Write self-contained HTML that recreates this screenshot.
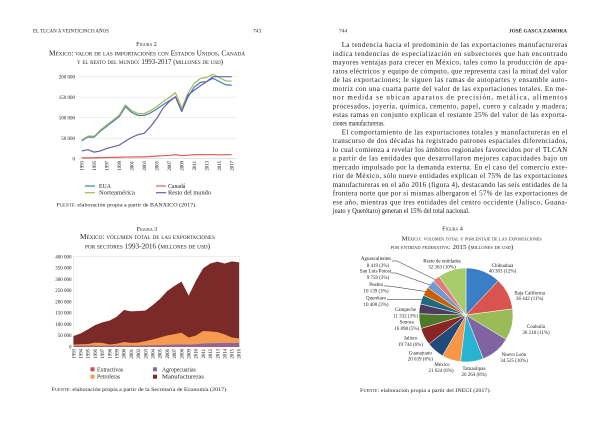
<!DOCTYPE html>
<html><head><meta charset="utf-8"><style>
html,body{margin:0;padding:0;background:#fff;}
svg{display:block;font-family:"Liberation Serif",serif;}
.sc{font-variant:small-caps;}
</style></head><body>
<svg width="600" height="431" viewBox="0 0 600 431" xmlns="http://www.w3.org/2000/svg">
<rect width="600" height="431" fill="#fff"/>
<g fill="#1e1e1e">
<!-- Headers -->
<text x="33" y="32.5" font-size="5">EL TLCAN A VEINTICINCO AÑOS</text>
<text x="253" y="32.5" font-size="5.5">743</text>
<text x="339" y="32.5" font-size="5.5">744</text>
<text x="509" y="32.5" font-size="5.3" font-weight="bold" textLength="58" lengthAdjust="spacingAndGlyphs">JOSÉ GASCA ZAMORA</text>

<!-- Figure 2 title -->
<text x="146.5" y="46" font-size="6.2" text-anchor="middle" class="sc">Figura 2</text>
<text x="49" y="55.5" font-size="7" class="sc" textLength="196" lengthAdjust="spacingAndGlyphs">México: valor de las importaciones con Estados Unidos, Canadá</text>
<text x="77" y="64" font-size="7" class="sc" textLength="146" lengthAdjust="spacingAndGlyphs">y el resto del mundo: 1993-2017 (millones de usd)</text>
</g>

<!-- Chart 1 -->
<g stroke="#e3e3e3" stroke-width="0.6">
<line x1="78" y1="76.7" x2="236" y2="76.7"/>
<line x1="78" y1="97.2" x2="236" y2="97.2"/>
<line x1="78" y1="117.7" x2="236" y2="117.7"/>
<line x1="78" y1="138.2" x2="236" y2="138.2"/>
<line x1="78" y1="158.7" x2="236" y2="158.7" stroke="#d0d0d0"/>
</g>
<g font-size="5" fill="#222" text-anchor="end">
<text x="75" y="78.4">200 000</text>
<text x="75" y="98.9">150 000</text>
<text x="75" y="119.4">100 000</text>
<text x="75" y="139.9">50 000</text>
<text x="75" y="160.4">0</text>
</g>
<g fill="none" stroke-width="1.2" stroke-linejoin="round">
<polyline stroke="#4a7ab8" points="81.7,140.87 87.95,136.97 94.2,137.09 100.45,131.11 106.7,126.31 112.95,121.47 119.2,116.67 125.45,106.63 131.7,112.45 137.95,115.45 144.2,115.45 150.45,112.9 156.7,109.17 162.95,104.74 169.2,100.89 175.45,96.79 181.7,111.26 187.95,97.04 194.2,87.2 200.45,82.4 206.7,81.54 212.95,78.34 219.2,81.42 225.45,84.74 231.7,85.23"/>
<polyline stroke="#d9605c" points="81.7,157.88 87.95,157.88 94.2,157.76 100.45,157.59 106.7,157.47 112.95,157.39 119.2,157.27 125.45,157.06 131.7,156.98 137.95,156.86 144.2,156.86 150.45,156.53 156.7,156.16 162.95,155.67 169.2,155.42 175.45,154.6 181.7,155.71 187.95,155.17 194.2,154.76 200.45,154.64 206.7,154.68 212.95,154.6 219.2,154.81 225.45,154.76 231.7,154.68"/>
<polyline stroke="#9bbb59" points="81.7,140.04 87.95,136.15 94.2,136.15 100.45,130 106.7,125.08 112.95,120.16 119.2,115.24 125.45,104.99 131.7,110.73 137.95,113.6 144.2,113.6 150.45,110.73 156.7,106.63 162.95,101.71 169.2,97.61 175.45,92.69 181.7,108.27 187.95,93.51 194.2,83.26 200.45,78.34 206.7,77.52 212.95,74.24 219.2,77.52 225.45,80.8 231.7,81.21"/>
<polyline stroke="#6560a8" points="81.7,150.91 87.95,149.68 94.2,152.14 100.45,150.91 106.7,148.45 112.95,146.81 119.2,145.17 125.45,141.07 131.7,137.38 137.95,134.72 144.2,133.28 150.45,126.72 156.7,118.52 162.95,108.27 169.2,101.71 175.45,96.79 181.7,111.55 187.95,95.15 194.2,90.23 200.45,85.72 206.7,81.62 212.95,76.7 219.2,76.7 225.45,76.7 231.7,76.7"/>
</g>
<g font-size="4.8" fill="#222" text-anchor="end">
<text transform="translate(83.5,161) rotate(-90)">1993</text>
<text transform="translate(96,161) rotate(-90)">1995</text>
<text transform="translate(108.5,161) rotate(-90)">1997</text>
<text transform="translate(121,161) rotate(-90)">1999</text>
<text transform="translate(133.5,161) rotate(-90)">2001</text>
<text transform="translate(146,161) rotate(-90)">2003</text>
<text transform="translate(158.5,161) rotate(-90)">2005</text>
<text transform="translate(171,161) rotate(-90)">2007</text>
<text transform="translate(183.5,161) rotate(-90)">2009</text>
<text transform="translate(196,161) rotate(-90)">2011</text>
<text transform="translate(208.5,161) rotate(-90)">2013</text>
<text transform="translate(221,161) rotate(-90)">2015</text>
<text transform="translate(233.5,161) rotate(-90)">2017</text>
</g>
<g stroke-width="1.2">
<line x1="85" y1="186" x2="95" y2="186" stroke="#4a7ab8"/>
<line x1="156" y1="186" x2="166" y2="186" stroke="#d9605c"/>
<line x1="85" y1="192.7" x2="95" y2="192.7" stroke="#9bbb59"/>
<line x1="156" y1="192.7" x2="166" y2="192.7" stroke="#6560a8"/>
</g>
<g font-size="5.8" fill="#222">
<text x="99" y="188">EUA</text>
<text x="168" y="188">Canadá</text>
<text x="99" y="194.7" textLength="36" lengthAdjust="spacingAndGlyphs">Norteamérica</text>
<text x="168" y="194.7" textLength="43" lengthAdjust="spacingAndGlyphs">Resto del mundo</text>
<text x="56.7" y="206.5" font-size="5.6" textLength="140" lengthAdjust="spacingAndGlyphs"><tspan class="sc">Fuente:</tspan> elaboración propia a partir de BANXICO (2017).</text>
</g>

<!-- Figure 3 title -->
<g fill="#1e1e1e">
<text x="147" y="231" font-size="6.2" text-anchor="middle" class="sc">Figura 3</text>
<text x="80" y="239" font-size="7" class="sc" textLength="135" lengthAdjust="spacingAndGlyphs">México: volumen total de las exportaciones</text>
<text x="85" y="248.3" font-size="7" class="sc" textLength="125" lengthAdjust="spacingAndGlyphs">por sectores 1993-2016 (millones de usd)</text>
</g>

<!-- Chart 2 -->
<rect x="73.3" y="256.7" width="166.5" height="90" fill="none" stroke="#dcdcdc" stroke-width="0.5"/>
<g font-size="5" fill="#222" text-anchor="end">
<text x="71.5" y="258.4">400 000</text>
<text x="71.5" y="269.7">350 000</text>
<text x="71.5" y="280.9">300 000</text>
<text x="71.5" y="292.2">250 000</text>
<text x="71.5" y="303.4">200 000</text>
<text x="71.5" y="314.7">150 000</text>
<text x="71.5" y="325.9">100 000</text>
<text x="71.5" y="337.2">50 000</text>
<text x="71.5" y="348.4">0</text>
</g>
<polygon fill="#7a2a28" points="73.5,346.7 73.5,336.04 80.7,333.43 87.9,329.38 95.1,325.1 102.3,322.4 109.5,320.6 116.7,316.78 123.9,310.03 131.1,311.38 138.3,311.04 145.5,310.48 152.7,305.08 159.9,299 167.1,291.13 174.3,285.95 181.5,281.68 188.7,295.63 195.9,280.78 203.1,268.4 210.3,263.45 217.5,261.65 224.7,263.45 231.9,261.43 239.1,262.33 239.1,346.7"/>
<polygon fill="#f59a4f" points="73.5,346.7 73.5,344.45 80.7,344.2 87.9,344 95.1,342.65 102.3,342.88 109.5,344.45 116.7,343.78 123.9,341.98 131.1,342.88 138.3,342.65 145.5,341.08 152.7,339.5 159.9,337.48 167.1,335.45 174.3,334.1 181.5,332.75 188.7,337.48 195.9,335.45 203.1,330.95 210.3,331.4 217.5,332.08 224.7,334.33 231.9,337.48 239.1,338.38 239.1,346.7"/>
<polygon fill="#8568a8" points="73.5,346.7 73.5,345.91 80.7,345.78 87.9,345.67 95.1,345.73 102.3,345.69 109.5,345.71 116.7,345.64 123.9,345.6 131.1,345.67 138.3,345.67 145.5,345.42 152.7,345.24 159.9,345.08 167.1,344.83 174.3,344.65 181.5,344.47 188.7,344.63 195.9,344.2 203.1,343.48 210.3,343.24 217.5,343.17 224.7,342.83 231.9,342.94 239.1,342.92 239.1,346.7"/>
<polygon fill="#c8504d" points="73.5,346.7 73.5,346.55 181.5,346.25 188.7,346.36 195.9,346.14 203.1,345.8 210.3,345.69 217.5,345.69 224.7,345.58 231.9,345.8 239.1,345.8 239.1,346.7"/>
<g font-size="4.8" fill="#222" text-anchor="end">
<text transform="translate(75.3,349) rotate(-90)">1993</text>
<text transform="translate(82.5,349) rotate(-90)">1994</text>
<text transform="translate(89.7,349) rotate(-90)">1995</text>
<text transform="translate(96.9,349) rotate(-90)">1996</text>
<text transform="translate(104.1,349) rotate(-90)">1997</text>
<text transform="translate(111.3,349) rotate(-90)">1998</text>
<text transform="translate(118.5,349) rotate(-90)">1999</text>
<text transform="translate(125.7,349) rotate(-90)">2000</text>
<text transform="translate(132.9,349) rotate(-90)">2001</text>
<text transform="translate(140.1,349) rotate(-90)">2002</text>
<text transform="translate(147.3,349) rotate(-90)">2003</text>
<text transform="translate(154.5,349) rotate(-90)">2004</text>
<text transform="translate(161.7,349) rotate(-90)">2005</text>
<text transform="translate(168.9,349) rotate(-90)">2006</text>
<text transform="translate(176.1,349) rotate(-90)">2007</text>
<text transform="translate(183.3,349) rotate(-90)">2008</text>
<text transform="translate(190.5,349) rotate(-90)">2009</text>
<text transform="translate(197.7,349) rotate(-90)">2010</text>
<text transform="translate(204.9,349) rotate(-90)">2011</text>
<text transform="translate(212.1,349) rotate(-90)">2012</text>
<text transform="translate(219.3,349) rotate(-90)">2013</text>
<text transform="translate(226.5,349) rotate(-90)">2014</text>
<text transform="translate(233.7,349) rotate(-90)">2015</text>
<text transform="translate(240.4,349) rotate(-90)">2016</text>
</g>
<rect x="90.5" y="367.3" width="4" height="4" fill="#c8504d"/>
<rect x="153" y="367.3" width="4" height="4" fill="#8568a8"/>
<rect x="90.5" y="374.7" width="4" height="4" fill="#f59a4f"/>
<rect x="153" y="374.7" width="4" height="4" fill="#7a2a28"/>
<g font-size="5.8" fill="#222">
<text x="97" y="371.3">Extractivas</text>
<text x="162" y="371.3">Agropecuarias</text>
<text x="97" y="378.7">Petroleras</text>
<text x="162" y="378.7" textLength="42" lengthAdjust="spacingAndGlyphs">Manufactureras</text>
<text x="51.7" y="391.2" font-size="5.6" textLength="176" lengthAdjust="spacingAndGlyphs"><tspan class="sc">Fuente:</tspan> elaboración propia a partir de la Secretaría de Economía (2017).</text>
</g>

<!-- Right page body text -->
<g font-size="7" fill="#1a1a1a">
<text x="341.7" y="47.1" textLength="225.6" lengthAdjust="spacing">La tendencia hacia el predominio de las exportaciones manufactureras</text>
<text x="332.7" y="55.84" textLength="234.6" lengthAdjust="spacing">indica tendencias de especialización en subsectores que han encontrado</text>
<text x="332.7" y="64.57" textLength="234.6" lengthAdjust="spacing">mayores ventajas para crecer en México, tales como la producción de apa-</text>
<text x="332.7" y="73.31" textLength="234.6" lengthAdjust="spacing">ratos eléctricos y equipo de cómputo, que representa casi la mitad del valor</text>
<text x="332.7" y="82.05" textLength="234.6" lengthAdjust="spacing">de las exportaciones; le siguen las ramas de autopartes y ensamble auto-</text>
<text x="332.7" y="90.79" textLength="234.6" lengthAdjust="spacing">motriz con una cuarta parte del valor de las exportaciones totales. En me-</text>
<text x="332.7" y="99.52" textLength="234.6" lengthAdjust="spacing">nor medida se ubican aparatos de precisión, metálica, alimentos</text>
<text x="332.7" y="108.26" textLength="234.6" lengthAdjust="spacing">procesados, joyería, química, cemento, papel, cuero y calzado y madera;</text>
<text x="332.7" y="117.0" textLength="234.6" lengthAdjust="spacing">estas ramas en conjunto explican el restante 25% del valor de las exporta-</text>
<text x="332.7" y="125.73" textLength="52" lengthAdjust="spacingAndGlyphs">ciones manufactureras.</text>
<text x="341.7" y="134.47" textLength="225.6" lengthAdjust="spacing">El comportamiento de las exportaciones totales y manufactureras en el</text>
<text x="332.7" y="143.21" textLength="234.6" lengthAdjust="spacing">transcurso de dos décadas ha registrado patrones espaciales diferenciados,</text>
<text x="332.7" y="151.94" textLength="234.6" lengthAdjust="spacing">lo cual comienza a revelar los ámbitos regionales favorecidos por el TLCAN</text>
<text x="332.7" y="160.68" textLength="234.6" lengthAdjust="spacing">a partir de las entidades que desarrollaron mejores capacidades bajo un</text>
<text x="332.7" y="169.42" textLength="234.6" lengthAdjust="spacing">mercado impulsado por la demanda externa. En el caso del comercio exte-</text>
<text x="332.7" y="178.16" textLength="234.6" lengthAdjust="spacing">rior de México, sólo nueve entidades explican el 75% de las exportaciones</text>
<text x="332.7" y="186.89" textLength="234.6" lengthAdjust="spacing">manufactureras en el año 2016 (figura 4), destacando las seis entidades de la</text>
<text x="332.7" y="195.63" textLength="234.6" lengthAdjust="spacing">frontera norte que por sí mismas albergaron el 57% de las exportaciones de</text>
<text x="332.7" y="204.37" textLength="234.6" lengthAdjust="spacing">ese año, mientras que tres entidades del centro occidente (Jalisco, Guana-</text>
<text x="332.7" y="213.1" textLength="137" lengthAdjust="spacingAndGlyphs">juato y Querétaro) generan el 15% del total nacional.</text>
</g>

<!-- Figure 4 title -->
<g fill="#1e1e1e">
<text x="452.5" y="230.5" font-size="6.2" text-anchor="middle" class="sc">Figura 4</text>
<text x="401.7" y="240.5" font-size="6.4" class="sc" textLength="140" lengthAdjust="spacingAndGlyphs">México: volumen total y porcentaje de las exportaciones</text>
<text x="390.7" y="249" font-size="6.4" class="sc" textLength="122.6" lengthAdjust="spacingAndGlyphs">por entidad federativa: 2015 (millones de usd)</text>
</g>

<!-- Pie -->
<g stroke="#fff" stroke-width="0.5">
<path fill="#3a7ec6" d="M466,315 L466,268 A47,47 0 0 1 498.23,280.79 Z"/>
<path fill="#d9534f" d="M466,315 L498.23,280.79 A47,47 0 0 1 512.59,308.82 Z"/>
<path fill="#9bbb59" d="M466,315 L512.59,308.82 A47,47 0 0 1 506.13,339.46 Z"/>
<path fill="#8064a2" d="M466,315 L506.13,339.46 A47,47 0 0 1 483.25,358.72 Z"/>
<path fill="#28b4d0" d="M466,315 L483.25,358.72 A47,47 0 0 1 460.53,361.68 Z"/>
<path fill="#f79646" d="M466,315 L460.53,361.68 A47,47 0 0 1 442.56,355.74 Z"/>
<path fill="#21497a" d="M466,315 L442.56,355.74 A47,47 0 0 1 428.95,343.91 Z"/>
<path fill="#8a2523" d="M466,315 L428.95,343.91 A47,47 0 0 1 420.98,328.51 Z"/>
<path fill="#4f7a2a" d="M466,315 L420.98,328.51 A47,47 0 0 1 419.01,313.81 Z"/>
<path fill="#4d3b62" d="M466,315 L419.01,313.81 A47,47 0 0 1 420.33,303.92 Z"/>
<path fill="#1f6a7c" d="M466,315 L420.33,303.92 A47,47 0 0 1 423.34,295.28 Z"/>
<path fill="#c65f08" d="M466,315 L423.34,295.28 A47,47 0 0 1 427.83,287.58 Z"/>
<path fill="#6e9ad0" d="M466,315 L427.83,287.58 A47,47 0 0 1 433.46,281.09 Z"/>
<path fill="#e27c78" d="M466,315 L433.46,281.09 A47,47 0 0 1 439.2,276.39 Z"/>
<path fill="#a8cc6c" d="M466,315 L439.2,276.39 A47,47 0 0 1 466,268 Z"/>
</g>
<g fill="none" stroke="#222" stroke-width="0.5">
<polyline points="392,261 397,261 436,280"/>
<polyline points="391,273 396,273 430,285"/>
<polyline points="384,286 389,286 425.5,291.5"/>
<polyline points="387,299.5 392,299.5 421.8,299.5"/>
</g>
<g font-size="5" fill="#222" text-anchor="middle">
<text x="376" y="260.1">Aguascalientes</text><text x="378" y="266.8">8 419 (3%)</text>
<text x="375.5" y="272.5">San Luis Potosí</text><text x="378" y="279.1">9 759 (3%)</text>
<text x="376" y="285.8">Puebla</text><text x="376" y="292.5">10 139 (3%)</text>
<text x="376" y="299.5">Querétaro</text><text x="376" y="306.1">10 400 (3%)</text>
<text x="405.5" y="310.8">Campeche</text><text x="405.5" y="317.5">11 332 (3%)</text>
<text x="406.7" y="323.5">Sonora</text><text x="406.7" y="330.1">16 898 (5%)</text>
<text x="410.7" y="339.5">Jalisco</text><text x="410.5" y="346.1">19 744 (6%)</text>
<text x="420.3" y="354.5">Guanajuato</text><text x="420.3" y="360.6">20 639 (6%)</text>
<text x="442" y="365.8">México</text><text x="441" y="371.8">21 624 (6%)</text>
<text x="474" y="370.1">Tamaulipas</text><text x="474" y="375.8">26 264 (8%)</text>
<text x="514" y="355.8">Nuevo León</text><text x="514" y="361.8">34 525 (10%)</text>
<text x="536" y="327.8">Coahuila</text><text x="536" y="334.1">36 218 (11%)</text>
<text x="529.7" y="294.5">Baja California</text><text x="529.7" y="300.1">36 442 (11%)</text>
<text x="502.5" y="266.8">Chihuahua</text><text x="502.5" y="272.5">40 303 (12%)</text>
<text x="442" y="262.5">Resto de entidades</text><text x="442" y="268.5">32 363 (10%)</text>
</g>
<text x="360" y="391.8" font-size="5.6" fill="#222" textLength="131" lengthAdjust="spacingAndGlyphs"><tspan class="sc">Fuente:</tspan> elaboración propia a partir del INEGI (2017).</text>
</svg>
</body></html>
